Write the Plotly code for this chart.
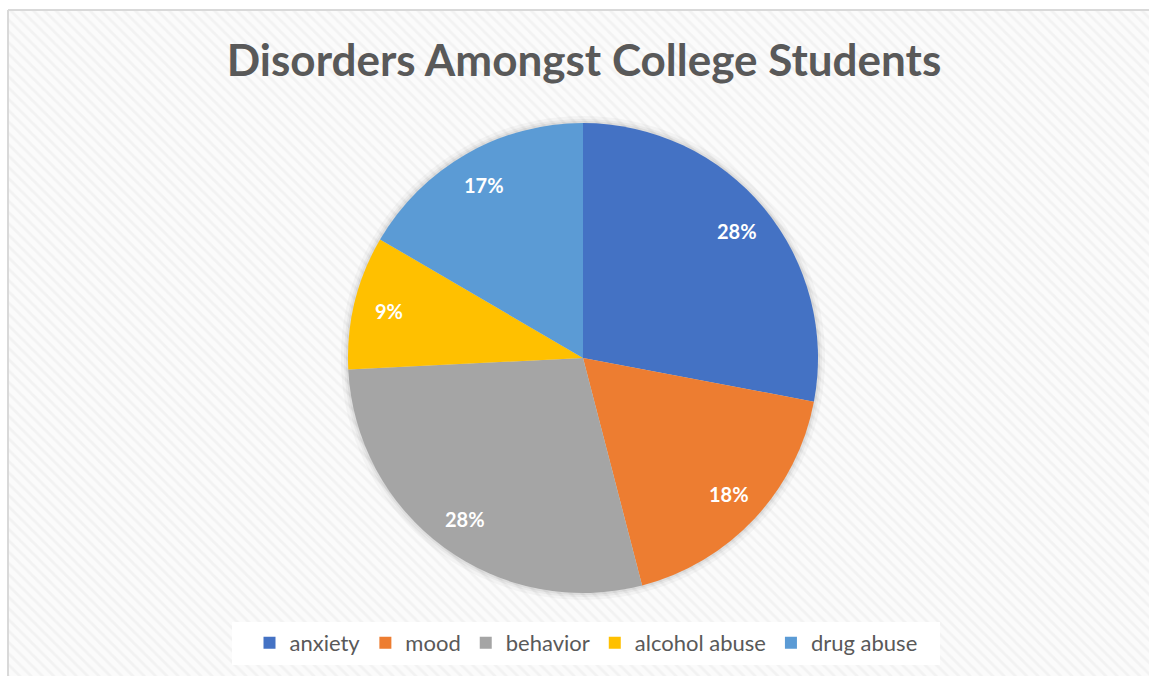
import math
import plotly.graph_objects as go

categories = ["anxiety", "mood", "behavior", "alcohol abuse", "drug abuse"]
values = [28.0, 18.0, 28.3, 9.2, 16.6]
colors = ["#4472C4", "#ED7D31", "#A5A5A5", "#FFC000", "#5B9BD5"]
title_text = "Disorders Amongst College Students"

W, H = 1149, 676

fig = go.Figure()

# hatched chart-area background
fig.add_trace(go.Scatter(
    x=[8, W, W, 8, 8], y=[10, 10, H, H, 10],
    mode="lines", line=dict(width=0), fill="toself",
    fillcolor="#FBFBFB",
    fillpattern=dict(shape="\\", fgcolor="#EAEAEA", bgcolor="#FBFBFB", size=8, solidity=0.35),
    hoverinfo="skip", showlegend=False,
))

cx, cy, r = 583, 358, 235


def dom(rad):
    return dict(x=[(cx - rad) / W, (cx + rad) / W], y=[1 - (cy + rad) / H, 1 - (cy - rad) / H])


# soft shadow behind the pie
for extra, alpha in [(7, 0.03), (4, 0.04), (2, 0.05)]:
    fig.add_trace(go.Pie(
        labels=["shadow"], values=[1], sort=False, showlegend=False,
        marker=dict(colors=[f"rgba(0,0,0,{alpha})"], line=dict(width=0)),
        textinfo="none", hoverinfo="skip", domain=dom(r + extra),
    ))

fig.add_trace(go.Pie(
    labels=categories, values=values, sort=False, direction="clockwise", rotation=0,
    marker=dict(colors=colors, line=dict(width=0)),
    textinfo="none",
    domain=dom(r),
    hoverinfo="label+percent",
))

# data labels placed at the middle angle of each slice
total = sum(values)
annotations = []
cum = 0.0
for v in values:
    mid = (cum + v / 2) / total * 2 * math.pi
    cum += v
    rl = 0.85 * r
    annotations.append(dict(
        x=cx + rl * math.sin(mid), y=cy - rl * math.cos(mid), xref="x", yref="y",
        text=f"{round(100 * v / total)}%", showarrow=False,
        font=dict(family="Lato", size=20, color="white", weight="bold"),
    ))

fig.update_layout(
    width=W, height=H,
    margin=dict(l=0, r=0, t=0, b=0),
    paper_bgcolor="white", plot_bgcolor="rgba(0,0,0,0)",
    xaxis=dict(range=[0, W], visible=False, fixedrange=True),
    yaxis=dict(range=[H, 0], visible=False, fixedrange=True),
    title=dict(text=title_text, x=584 / W, xanchor="center", y=1 - 61 / H, yanchor="middle",
               font=dict(family="Lato", size=44, color="#595959", weight="bold")),
    legend=dict(orientation="h", x=586 / W, xanchor="center", y=1 - 643 / H, yanchor="middle",
                bgcolor="rgba(0,0,0,0)", font=dict(family="Lato", size=22, color="#595959"),
                itemwidth=30, traceorder="normal"),
    annotations=annotations,
    shapes=[
        dict(type="rect", xref="x", yref="y", x0=232, x1=940, y0=622, y1=665,
             fillcolor="white", line=dict(width=0), layer="above"),
        dict(type="line", xref="x", yref="y", x0=8, x1=8, y0=10, y1=H,
             line=dict(color="#D9D9D9", width=2), layer="above"),
        dict(type="line", xref="x", yref="y", x0=8, x1=W, y0=10, y1=10,
             line=dict(color="#D9D9D9", width=2), layer="above"),
    ],
)

fig.write_html(
    "out.html",
    config={"displayModeBar": False},
    post_script="document.body.style.margin='0';document.body.style.overflow='hidden';",
)
